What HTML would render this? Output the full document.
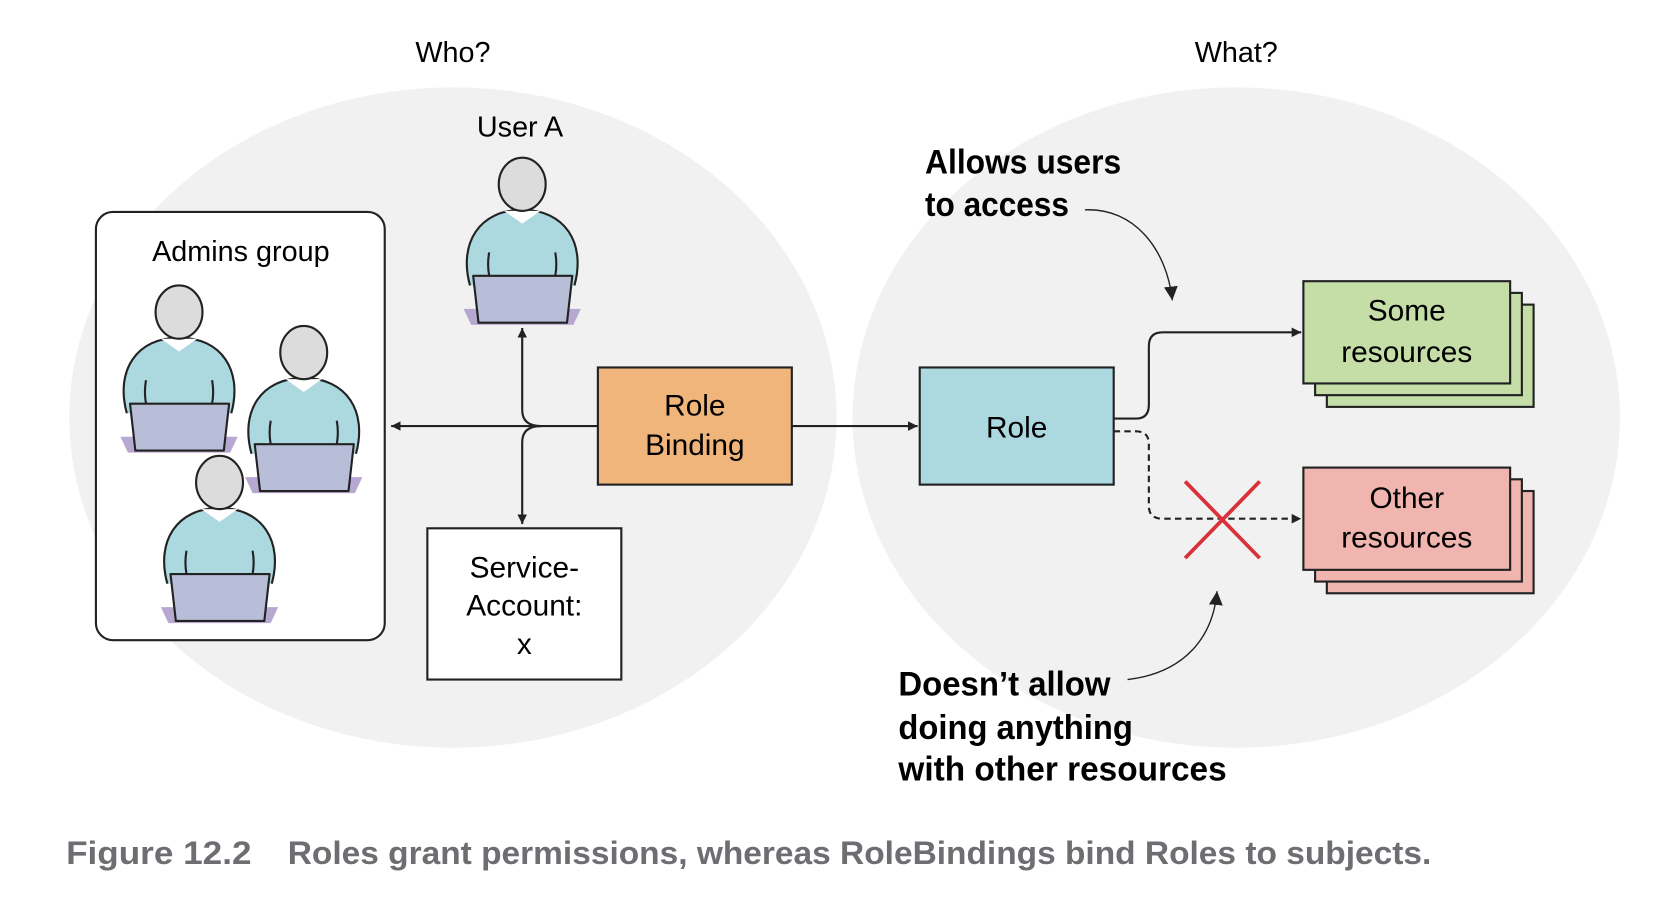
<!DOCTYPE html>
<html><head><meta charset="utf-8"><style>
html,body{margin:0;padding:0;background:#fff;}
svg{display:block;}
text{font-family:"Liberation Sans",sans-serif;}
</style></head><body>
<svg width="1670" height="916" viewBox="0 0 1567 860" preserveAspectRatio="none" xmlns="http://www.w3.org/2000/svg">
<defs>
<marker id="ar" viewBox="0 0 10 10" refX="10" refY="5" markerWidth="9" markerHeight="9" markerUnits="userSpaceOnUse" orient="auto"><path d="M0,0 L10,5 L0,10 z" fill="#222"/></marker>
<marker id="ar2" viewBox="0 0 10 10" refX="10" refY="5" markerWidth="13" markerHeight="13" markerUnits="userSpaceOnUse" orient="auto"><path d="M0,0 L10,5 L0,10 z" fill="#222"/></marker>
<g id="p">
<polygon points="-55,117 55,117 48,132 -48,132" fill="#b7a8d2"/>
<path d="M-49,95 C-60,55 -40,24 0,24 C40,24 60,55 49,95" fill="#acd9e0" stroke="#222" stroke-width="2"/>
<polygon points="-17,25 17,25 0,37" fill="#fff"/>
<path d="M-31,64 Q-33,75 -31,86 M31,64 Q33,75 31,86" fill="none" stroke="#222" stroke-width="2"/>
<polygon points="-46,86 47,86 42,130 -41,130" fill="#b8bed8" stroke="#222" stroke-width="2" stroke-linejoin="round"/>
<ellipse cx="0" cy="0" rx="22" ry="25" fill="#dcdcdc" stroke="#222" stroke-width="2"/>
</g>
</defs>
<ellipse cx="425" cy="392" rx="360" ry="310" fill="#f1f1f1"/>
<ellipse cx="1160" cy="392" rx="360" ry="310" fill="#f1f1f1"/>
<text x="425" y="58" font-size="27" text-anchor="middle">Who?</text>
<text x="1160" y="58" font-size="27" text-anchor="middle">What?</text>
<rect x="90" y="199" width="271" height="402" rx="16" fill="#fff" stroke="#222" stroke-width="2"/>
<text x="226" y="245" font-size="27" text-anchor="middle">Admins group</text>
<use href="#p" x="168" y="293"/>
<use href="#p" x="285" y="331"/>
<use href="#p" x="206" y="453"/>
<text x="488" y="128" font-size="27" text-anchor="middle">User A</text>
<use href="#p" x="490" y="173"/>
<path d="M561,400 L367,400" fill="none" stroke="#222" stroke-width="2" marker-end="url(#ar)"/>
<path d="M508,400 Q490,400 490,385 L490,308" fill="none" stroke="#222" stroke-width="2" marker-end="url(#ar)"/>
<path d="M508,400 Q490,400 490,415 L490,492" fill="none" stroke="#222" stroke-width="2" marker-end="url(#ar)"/>
<path d="M743,400 L861,400" fill="none" stroke="#222" stroke-width="2" marker-end="url(#ar)"/>
<rect x="561" y="345" width="182" height="110" fill="#f0b57a" stroke="#222" stroke-width="2"/>
<text x="652" y="390" font-size="28" text-anchor="middle">Role</text>
<text x="652" y="427" font-size="28" text-anchor="middle">Binding</text>
<rect x="401" y="496" width="182" height="142" fill="#fff" stroke="#222" stroke-width="2"/>
<text x="492" y="542" font-size="28" text-anchor="middle">Service-</text>
<text x="492" y="578" font-size="28" text-anchor="middle">Account:</text>
<text x="492" y="614" font-size="28" text-anchor="middle">x</text>
<rect x="863" y="345" width="182" height="110" fill="#acd9e0" stroke="#222" stroke-width="2"/>
<text x="954" y="411" font-size="28" text-anchor="middle">Role</text>
<path d="M1045,393 L1066,393 Q1078,393 1078,380 L1078,325 Q1078,312 1091,312 L1221,312" fill="none" stroke="#222" stroke-width="2" marker-end="url(#ar)"/>
<path d="M1045,405 L1066,405 Q1078,405 1078,417 L1078,475 Q1078,487 1091,487 L1221,487" fill="none" stroke="#222" stroke-width="2" stroke-dasharray="6,4" marker-end="url(#ar)"/>
<rect x="1245" y="286" width="194" height="96" fill="#c5dea8" stroke="#222" stroke-width="2"/>
<rect x="1234" y="275" width="194" height="96" fill="#c5dea8" stroke="#222" stroke-width="2"/>
<rect x="1223" y="264" width="194" height="96" fill="#c5dea8" stroke="#222" stroke-width="2"/>
<text x="1320" y="301" font-size="28" text-anchor="middle">Some</text>
<text x="1320" y="340" font-size="28" text-anchor="middle">resources</text>
<rect x="1245" y="461" width="194" height="96" fill="#f0b5ae" stroke="#222" stroke-width="2"/>
<rect x="1234" y="450" width="194" height="96" fill="#f0b5ae" stroke="#222" stroke-width="2"/>
<rect x="1223" y="439" width="194" height="96" fill="#f0b5ae" stroke="#222" stroke-width="2"/>
<text x="1320" y="477" font-size="28" text-anchor="middle">Other</text>
<text x="1320" y="514" font-size="28" text-anchor="middle">resources</text>
<path d="M1112,452 L1182,524 M1182,452 L1112,524" stroke="#d9303a" stroke-width="3.5"/>
<text x="868" y="163" font-size="32" font-weight="bold" textLength="184" lengthAdjust="spacingAndGlyphs">Allows users</text>
<text x="868" y="203" font-size="32" font-weight="bold" textLength="135" lengthAdjust="spacingAndGlyphs">to access</text>
<path d="M1018,197 C1065,195 1095,235 1100,282" fill="none" stroke="#222" stroke-width="1.3" marker-end="url(#ar2)"/>
<text x="843" y="653" font-size="32" font-weight="bold" textLength="199" lengthAdjust="spacingAndGlyphs">Doesn’t allow</text>
<text x="843" y="694" font-size="32" font-weight="bold" textLength="220" lengthAdjust="spacingAndGlyphs">doing anything</text>
<text x="843" y="733" font-size="32" font-weight="bold" textLength="308" lengthAdjust="spacingAndGlyphs">with other resources</text>
<path d="M1058,638 C1110,632 1138,600 1142,555" fill="none" stroke="#222" stroke-width="1.3" marker-end="url(#ar2)"/>
<text x="62" y="811" font-size="30" font-weight="bold" fill="#6d6e71" textLength="174" lengthAdjust="spacingAndGlyphs">Figure 12.2</text>
<text x="270" y="811" font-size="30" font-weight="bold" fill="#6d6e71" textLength="1073" lengthAdjust="spacingAndGlyphs">Roles grant permissions, whereas RoleBindings bind Roles to subjects.</text>
</svg>
</body></html>
